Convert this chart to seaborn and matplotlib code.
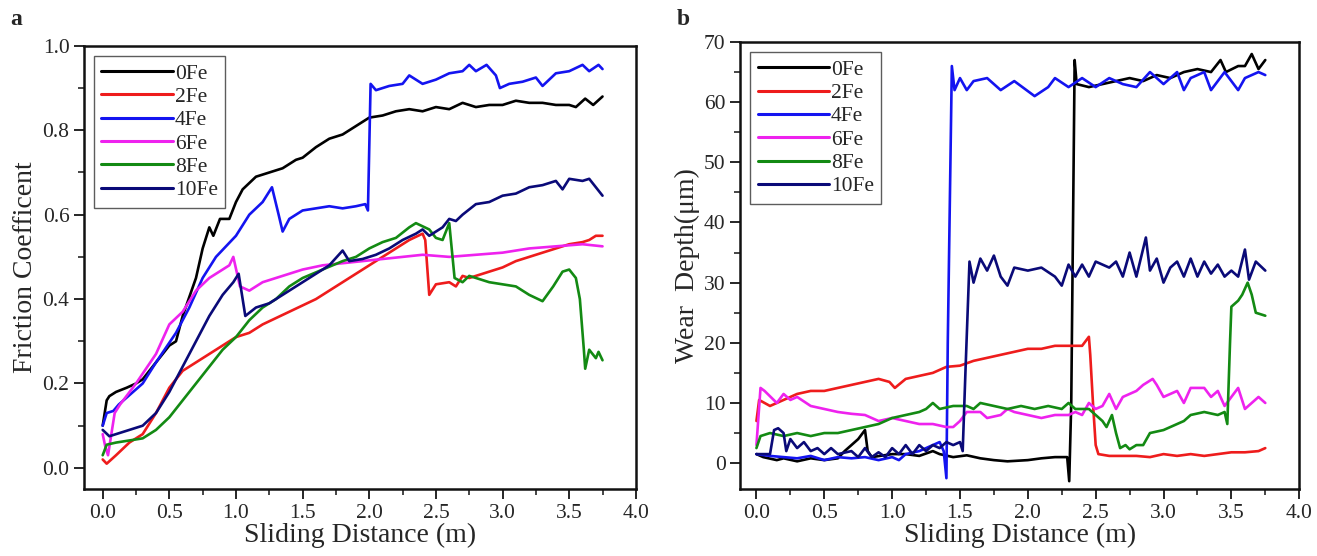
import numpy as np
import pandas as pd
import matplotlib
matplotlib.use("Agg")
import matplotlib.pyplot as plt
import seaborn as sns
from matplotlib.ticker import MultipleLocator, AutoMinorLocator

# ---------------- panel a: friction coefficient ----------------
labels = ["0Fe", "2Fe", "4Fe", "6Fe", "8Fe", "10Fe"]
colors = ["#000000", "#ee1c1c", "#1414f0", "#ee22ee", "#138a13", "#0a0a78"]

fc_0fe_x = [0, 0.03, 0.05, 0.1, 0.18, 0.25, 0.3, 0.4, 0.5, 0.55, 0.6, 0.7, 0.75, 0.8, 0.83, 0.88, 0.95,
            1.0, 1.05, 1.15, 1.25, 1.35, 1.45, 1.5, 1.6, 1.7, 1.8, 1.9, 2.0, 2.1, 2.2, 2.3, 2.4, 2.5,
            2.6, 2.7, 2.8, 2.9, 3.0, 3.1, 3.2, 3.3, 3.4, 3.5, 3.55, 3.62, 3.68, 3.75]
fc_0fe_y = [0.10, 0.16, 0.17, 0.18, 0.19, 0.20, 0.21, 0.25, 0.29, 0.30, 0.36, 0.45, 0.52, 0.57, 0.55, 0.59, 0.59,
            0.63, 0.66, 0.69, 0.70, 0.71, 0.73, 0.735, 0.76, 0.78, 0.79, 0.81, 0.83, 0.835, 0.845, 0.85, 0.845, 0.855,
            0.85, 0.865, 0.855, 0.86, 0.86, 0.87, 0.865, 0.865, 0.86, 0.86, 0.855, 0.875, 0.86, 0.88]

fc_2fe_x = [0, 0.03, 0.1, 0.2, 0.3, 0.4, 0.5, 0.6, 0.7, 0.8, 0.9, 1.0, 1.1, 1.2, 1.3, 1.4, 1.5, 1.6, 1.7,
            1.8, 1.9, 2.0, 2.1, 2.2, 2.3, 2.4, 2.42, 2.45, 2.5, 2.6, 2.65, 2.7, 2.75, 2.85, 3.0, 3.1, 3.2,
            3.3, 3.4, 3.5, 3.6, 3.65, 3.7, 3.75]
fc_2fe_y = [0.02, 0.01, 0.03, 0.06, 0.08, 0.13, 0.19, 0.23, 0.25, 0.27, 0.29, 0.31, 0.32, 0.34, 0.355, 0.37, 0.385,
            0.40, 0.42, 0.44, 0.46, 0.48, 0.50, 0.52, 0.54, 0.555, 0.54, 0.41, 0.435, 0.44, 0.43, 0.455, 0.45, 0.46,
            0.475, 0.49, 0.50, 0.51, 0.52, 0.53, 0.535, 0.54, 0.55, 0.55]

fc_4fe_x = [0, 0.03, 0.08, 0.12, 0.3, 0.4, 0.55, 0.65, 0.75, 0.85, 1.0, 1.1, 1.2, 1.27, 1.32, 1.35, 1.4, 1.5,
            1.6, 1.7, 1.8, 1.9, 1.97, 1.99, 2.01, 2.05, 2.15, 2.25, 2.3, 2.4, 2.5, 2.6, 2.7, 2.75, 2.8, 2.88,
            2.95, 2.98, 3.05, 3.15, 3.25, 3.3, 3.4, 3.5, 3.6, 3.65, 3.72, 3.75]
fc_4fe_y = [0.10, 0.13, 0.135, 0.15, 0.20, 0.25, 0.32, 0.38, 0.45, 0.50, 0.55, 0.60, 0.63, 0.665, 0.60, 0.56, 0.59,
            0.61, 0.615, 0.62, 0.615, 0.62, 0.625, 0.61, 0.91, 0.895, 0.905, 0.91, 0.93, 0.91, 0.92, 0.935, 0.94,
            0.955, 0.94, 0.955, 0.93, 0.90, 0.91, 0.915, 0.925, 0.905, 0.935, 0.94, 0.955, 0.94, 0.955, 0.945]

fc_6fe_x = [0, 0.02, 0.04, 0.09, 0.13, 0.25, 0.4, 0.5, 0.6, 0.7, 0.8, 0.9, 0.95, 0.98, 1.03, 1.1, 1.2, 1.35,
            1.5, 1.65, 1.8, 1.95, 2.1, 2.25, 2.4, 2.6, 2.8, 3.0, 3.2, 3.4, 3.6, 3.75]
fc_6fe_y = [0.08, 0.05, 0.03, 0.13, 0.15, 0.20, 0.27, 0.34, 0.37, 0.42, 0.45, 0.47, 0.48, 0.50, 0.43, 0.42, 0.44,
            0.455, 0.47, 0.48, 0.485, 0.49, 0.495, 0.50, 0.505, 0.50, 0.505, 0.51, 0.52, 0.525, 0.53, 0.525]

fc_8fe_x = [0, 0.03, 0.1, 0.2, 0.3, 0.4, 0.5, 0.6, 0.7, 0.8, 0.9, 1.0, 1.1, 1.2, 1.3, 1.4, 1.5, 1.65, 1.8,
            1.9, 2.0, 2.1, 2.2, 2.3, 2.35, 2.45, 2.5, 2.55, 2.6, 2.64, 2.7, 2.75, 2.9, 3.0, 3.1, 3.2, 3.3,
            3.38, 3.45, 3.5, 3.55, 3.58, 3.61, 3.62, 3.65, 3.7, 3.72, 3.75]
fc_8fe_y = [0.03, 0.055, 0.06, 0.065, 0.07, 0.09, 0.12, 0.16, 0.20, 0.24, 0.28, 0.31, 0.35, 0.38, 0.40, 0.43,
            0.45, 0.47, 0.49, 0.50, 0.52, 0.535, 0.545, 0.57, 0.58, 0.565, 0.545, 0.54, 0.58, 0.45, 0.44, 0.455,
            0.44, 0.435, 0.43, 0.41, 0.395, 0.43, 0.465, 0.47, 0.45, 0.40, 0.28, 0.235, 0.28, 0.26, 0.275, 0.255]

fc_10fe_x = [0, 0.05, 0.1, 0.2, 0.3, 0.4, 0.5, 0.6, 0.7, 0.8, 0.9, 0.98, 1.02, 1.05, 1.07, 1.15, 1.25, 1.35,
             1.5, 1.6, 1.7, 1.8, 1.85, 1.95, 2.05, 2.15, 2.25, 2.35, 2.4, 2.45, 2.55, 2.6, 2.65, 2.7, 2.8,
             2.9, 3.0, 3.1, 3.2, 3.3, 3.4, 3.45, 3.5, 3.6, 3.65, 3.7, 3.75]
fc_10fe_y = [0.09, 0.075, 0.08, 0.09, 0.10, 0.13, 0.18, 0.24, 0.30, 0.36, 0.41, 0.44, 0.46, 0.40, 0.36, 0.38,
             0.39, 0.41, 0.44, 0.46, 0.48, 0.515, 0.49, 0.495, 0.505, 0.52, 0.54, 0.555, 0.565, 0.55, 0.57, 0.59,
             0.585, 0.60, 0.625, 0.63, 0.645, 0.65, 0.665, 0.67, 0.68, 0.66, 0.685, 0.68, 0.685, 0.665, 0.645]

# ---------------- panel b: wear depth ----------------
wd_0fe_x = [0, 0.05, 0.15, 0.2, 0.3, 0.4, 0.5, 0.6, 0.65, 0.7, 0.75, 0.8, 0.82, 0.85, 1.0, 1.1, 1.2, 1.3,
            1.35, 1.45, 1.55, 1.65, 1.75, 1.85, 2.0, 2.1, 2.2, 2.29, 2.305, 2.32, 2.345, 2.36, 2.45, 2.55,
            2.65, 2.75, 2.85, 2.95, 3.05, 3.15, 3.25, 3.35, 3.42, 3.46, 3.55, 3.6, 3.65, 3.7, 3.75]
wd_0fe_y = [1.5, 1.0, 0.5, 0.8, 0.3, 0.8, 0.5, 0.8, 2.0, 3.0, 4.0, 5.5, 2.0, 1.0, 1.5, 1.5, 1.2, 2.0,
            1.5, 1.0, 1.3, 0.8, 0.5, 0.3, 0.5, 0.8, 1.0, 1.0, -3.0, 10.0, 67.0, 63.0, 62.5, 63.0,
            63.5, 64.0, 63.5, 64.5, 64.0, 65.0, 65.5, 65.0, 67.0, 65.0, 66.0, 66.0, 68.0, 65.5, 67.0]

wd_2fe_x = [0, 0.02, 0.1, 0.2, 0.3, 0.4, 0.5, 0.6, 0.7, 0.8, 0.9, 0.98, 1.02, 1.1, 1.2, 1.3, 1.4, 1.5,
            1.6, 1.7, 1.8, 1.9, 2.0, 2.1, 2.2, 2.3, 2.4, 2.45, 2.46, 2.48, 2.5, 2.52, 2.6, 2.8, 2.9, 3.0,
            3.1, 3.2, 3.3, 3.4, 3.5, 3.6, 3.7, 3.75]
wd_2fe_y = [7.0, 10.5, 9.5, 10.5, 11.5, 12.0, 12.0, 12.5, 13.0, 13.5, 14.0, 13.5, 12.5, 14.0, 14.5, 15.0,
            16.0, 16.2, 17.0, 17.5, 18.0, 18.5, 19.0, 19.0, 19.5, 19.5, 19.5, 21.0, 18.0, 10.0, 3.0, 1.5,
            1.2, 1.2, 1.0, 1.5, 1.2, 1.5, 1.2, 1.5, 1.8, 1.8, 2.0, 2.5]

wd_4fe_x = [0, 0.1, 0.2, 0.3, 0.4, 0.5, 0.6, 0.7, 0.8, 0.9, 1.0, 1.05, 1.1, 1.2, 1.3, 1.35, 1.38, 1.4,
            1.41, 1.44, 1.46, 1.5, 1.55, 1.6, 1.7, 1.8, 1.9, 2.05, 2.15, 2.2, 2.3, 2.4, 2.5, 2.6, 2.7, 2.8,
            2.9, 3.0, 3.1, 3.15, 3.2, 3.3, 3.35, 3.45, 3.55, 3.6, 3.7, 3.75]
wd_4fe_y = [1.5, 1.2, 1.0, 0.8, 1.2, 0.5, 1.0, 0.8, 1.0, 0.5, 1.0, 0.5, 1.5, 2.0, 3.0, 3.5, 2.0, -2.5,
            20.0, 66.0, 62.0, 64.0, 62.0, 63.5, 64.0, 62.0, 63.5, 61.0, 62.5, 64.0, 62.5, 64.0, 62.5, 64.0,
            63.0, 62.5, 65.0, 63.0, 65.0, 62.0, 64.0, 65.0, 62.0, 65.0, 62.0, 64.0, 65.0, 64.5]

wd_6fe_x = [0, 0.03, 0.06, 0.15, 0.2, 0.25, 0.3, 0.4, 0.5, 0.6, 0.7, 0.8, 0.9, 1.0, 1.1, 1.2, 1.3, 1.4,
            1.45, 1.5, 1.55, 1.65, 1.7, 1.8, 1.85, 1.9, 2.0, 2.1, 2.2, 2.3, 2.35, 2.4, 2.45, 2.5, 2.55,
            2.6, 2.65, 2.7, 2.8, 2.85, 2.92, 2.95, 3.0, 3.1, 3.15, 3.2, 3.3, 3.35, 3.4, 3.45, 3.55, 3.6,
            3.65, 3.7, 3.75]
wd_6fe_y = [3.0, 12.5, 12.0, 10.0, 11.5, 10.5, 11.0, 9.5, 9.0, 8.5, 8.2, 8.0, 7.0, 7.5, 7.0, 6.5, 6.5,
            6.0, 6.0, 7.0, 8.5, 8.5, 7.5, 8.0, 9.0, 8.5, 8.0, 7.5, 8.0, 8.0, 8.5, 8.0, 10.0, 9.0, 9.5,
            11.5, 9.0, 11.0, 12.0, 13.0, 14.0, 13.0, 11.0, 12.0, 10.0, 12.5, 12.5, 11.0, 12.0, 9.5, 12.5,
            9.0, 10.0, 11.0, 10.0]

wd_8fe_x = [0, 0.03, 0.1, 0.2, 0.3, 0.4, 0.5, 0.6, 0.7, 0.8, 0.9, 1.0, 1.1, 1.2, 1.25, 1.3, 1.35, 1.45,
            1.55, 1.6, 1.65, 1.75, 1.85, 1.95, 2.05, 2.15, 2.25, 2.3, 2.35, 2.45, 2.5, 2.55, 2.58, 2.62,
            2.65, 2.68, 2.72, 2.75, 2.8, 2.85, 2.9, 3.0, 3.1, 3.15, 3.2, 3.3, 3.4, 3.45, 3.47, 3.49, 3.5,
            3.55, 3.58, 3.62, 3.65, 3.68, 3.75]
wd_8fe_y = [2.5, 4.5, 5.0, 4.5, 5.0, 4.5, 5.0, 5.0, 5.5, 6.0, 6.5, 7.5, 8.0, 8.5, 9.0, 10.0, 9.0, 9.5,
            9.5, 9.0, 10.0, 9.5, 9.0, 9.5, 9.0, 9.5, 9.0, 10.0, 9.0, 9.0, 8.0, 7.0, 6.0, 8.0, 5.0, 2.5,
            3.0, 2.3, 3.0, 3.0, 5.0, 5.5, 6.5, 7.0, 8.0, 8.5, 8.0, 8.5, 6.5, 20.0, 26.0, 27.0, 28.0, 30.0,
            28.0, 25.0, 24.5]

wd_10fe_x = [0, 0.1, 0.13, 0.16, 0.2, 0.22, 0.25, 0.3, 0.35, 0.4, 0.45, 0.5, 0.55, 0.6, 0.7, 0.75, 0.8,
             0.85, 0.9, 0.95, 1.0, 1.05, 1.1, 1.15, 1.2, 1.25, 1.3, 1.35, 1.4, 1.45, 1.5, 1.52, 1.54, 1.57,
             1.6, 1.65, 1.7, 1.75, 1.8, 1.85, 1.9, 2.0, 2.1, 2.2, 2.25, 2.3, 2.35, 2.4, 2.45, 2.5, 2.6,
             2.65, 2.7, 2.75, 2.8, 2.87, 2.9, 2.95, 3.0, 3.05, 3.1, 3.15, 3.2, 3.25, 3.3, 3.35, 3.4, 3.45,
             3.5, 3.55, 3.6, 3.63, 3.68, 3.75]
wd_10fe_y = [1.5, 1.5, 5.5, 5.8, 5.0, 2.0, 4.0, 2.5, 3.5, 2.0, 2.5, 1.5, 2.5, 1.5, 2.0, 1.0, 2.5, 1.0,
             1.8, 1.0, 2.5, 1.5, 3.0, 1.5, 3.0, 2.0, 3.0, 2.5, 3.5, 3.0, 3.5, 2.0, 15.0, 33.5, 30.0,
             34.0, 32.0, 34.5, 31.0, 29.5, 32.5, 32.0, 32.5, 31.0, 29.5, 33.0, 31.0, 33.0, 31.0, 33.5,
             32.5, 33.5, 31.0, 35.0, 31.0, 37.5, 32.0, 34.0, 30.0, 32.5, 33.5, 31.0, 34.0, 31.0, 33.5,
             31.5, 33.0, 31.0, 32.0, 31.0, 35.5, 30.5, 33.5, 32.0]


def long_frame(pairs):
    rows = []
    for lab, (xs, ys) in zip(labels, pairs):
        for i, (xv, yv) in enumerate(zip(xs, ys)):
            rows.append({"dist": xv, "val": yv, "sample": lab, "order": i})
    return pd.DataFrame(rows)


df_a = long_frame([(fc_0fe_x, fc_0fe_y), (fc_2fe_x, fc_2fe_y), (fc_4fe_x, fc_4fe_y),
                   (fc_6fe_x, fc_6fe_y), (fc_8fe_x, fc_8fe_y), (fc_10fe_x, fc_10fe_y)])
df_b = long_frame([(wd_0fe_x, wd_0fe_y), (wd_2fe_x, wd_2fe_y), (wd_4fe_x, wd_4fe_y),
                   (wd_6fe_x, wd_6fe_y), (wd_8fe_x, wd_8fe_y), (wd_10fe_x, wd_10fe_y)])

sns.set_style("ticks")
plt.rcParams["font.family"] = ["Liberation Serif", "DejaVu Serif"]

fig = plt.figure(figsize=(13.17, 5.56), dpi=100)
ax_a = fig.add_axes([0.0638, 0.1205, 0.419, 0.797])
ax_b = fig.add_axes([0.562, 0.1205, 0.4245, 0.804])

palette = dict(zip(labels, colors))
text_col = "#262626"

for ax, df in [(ax_a, df_a), (ax_b, df_b)]:
    sns.lineplot(data=df, x="dist", y="val", hue="sample", hue_order=labels, palette=palette,
                 estimator=None, sort=False, units="sample", linewidth=1.9, ax=ax)
    ax.set_xlim(-0.14, 4.0)
    ax.xaxis.set_major_locator(MultipleLocator(0.5))
    ax.xaxis.set_minor_locator(AutoMinorLocator(2))
    ax.yaxis.set_minor_locator(AutoMinorLocator(2))
    ax.xaxis.set_major_formatter(matplotlib.ticker.FormatStrFormatter("%.1f"))
    ax.tick_params(which="major", direction="out", length=7, width=1.4, labelsize=15.5,
                   labelcolor=text_col, color=text_col)
    ax.tick_params(which="minor", direction="out", length=4, width=1.2, color=text_col)
    for sp in ax.spines.values():
        sp.set_linewidth(1.8)
        sp.set_color("#111111")
    ax.set_xlabel("Sliding Distance (m)", fontsize=20, color=text_col, labelpad=0)
    leg = ax.legend(loc="upper left", bbox_to_anchor=(0.018, 0.977), borderaxespad=0,
                    fontsize=15.5, handlelength=3.3, handletextpad=0.1, labelspacing=0.15,
                    fancybox=False, frameon=True, borderpad=0.35)
    leg.get_frame().set_edgecolor("#333333")
    leg.get_frame().set_linewidth(1.0)
    for line in leg.get_lines():
        line.set_linewidth(2.2)

ax_a.set_ylim(-0.05, 1.0)
ax_a.yaxis.set_major_locator(MultipleLocator(0.2))
ax_a.yaxis.set_major_formatter(matplotlib.ticker.FormatStrFormatter("%.1f"))
ax_a.set_ylabel("Friction Coefficent", fontsize=20, color=text_col, labelpad=3)

ax_b.set_xlim(-0.12, 4.0)
ax_b.set_ylim(-4.3, 70)
ax_b.yaxis.set_major_locator(MultipleLocator(10))
ax_b.set_ylabel("Wear  Depth(\u03bcm)", fontsize=20, color=text_col, labelpad=3)

fig.text(0.008, 0.955, "a", fontsize=17, fontweight="bold")
fig.text(0.514, 0.955, "b", fontsize=17, fontweight="bold")

fig.savefig("out.png", dpi=100)
